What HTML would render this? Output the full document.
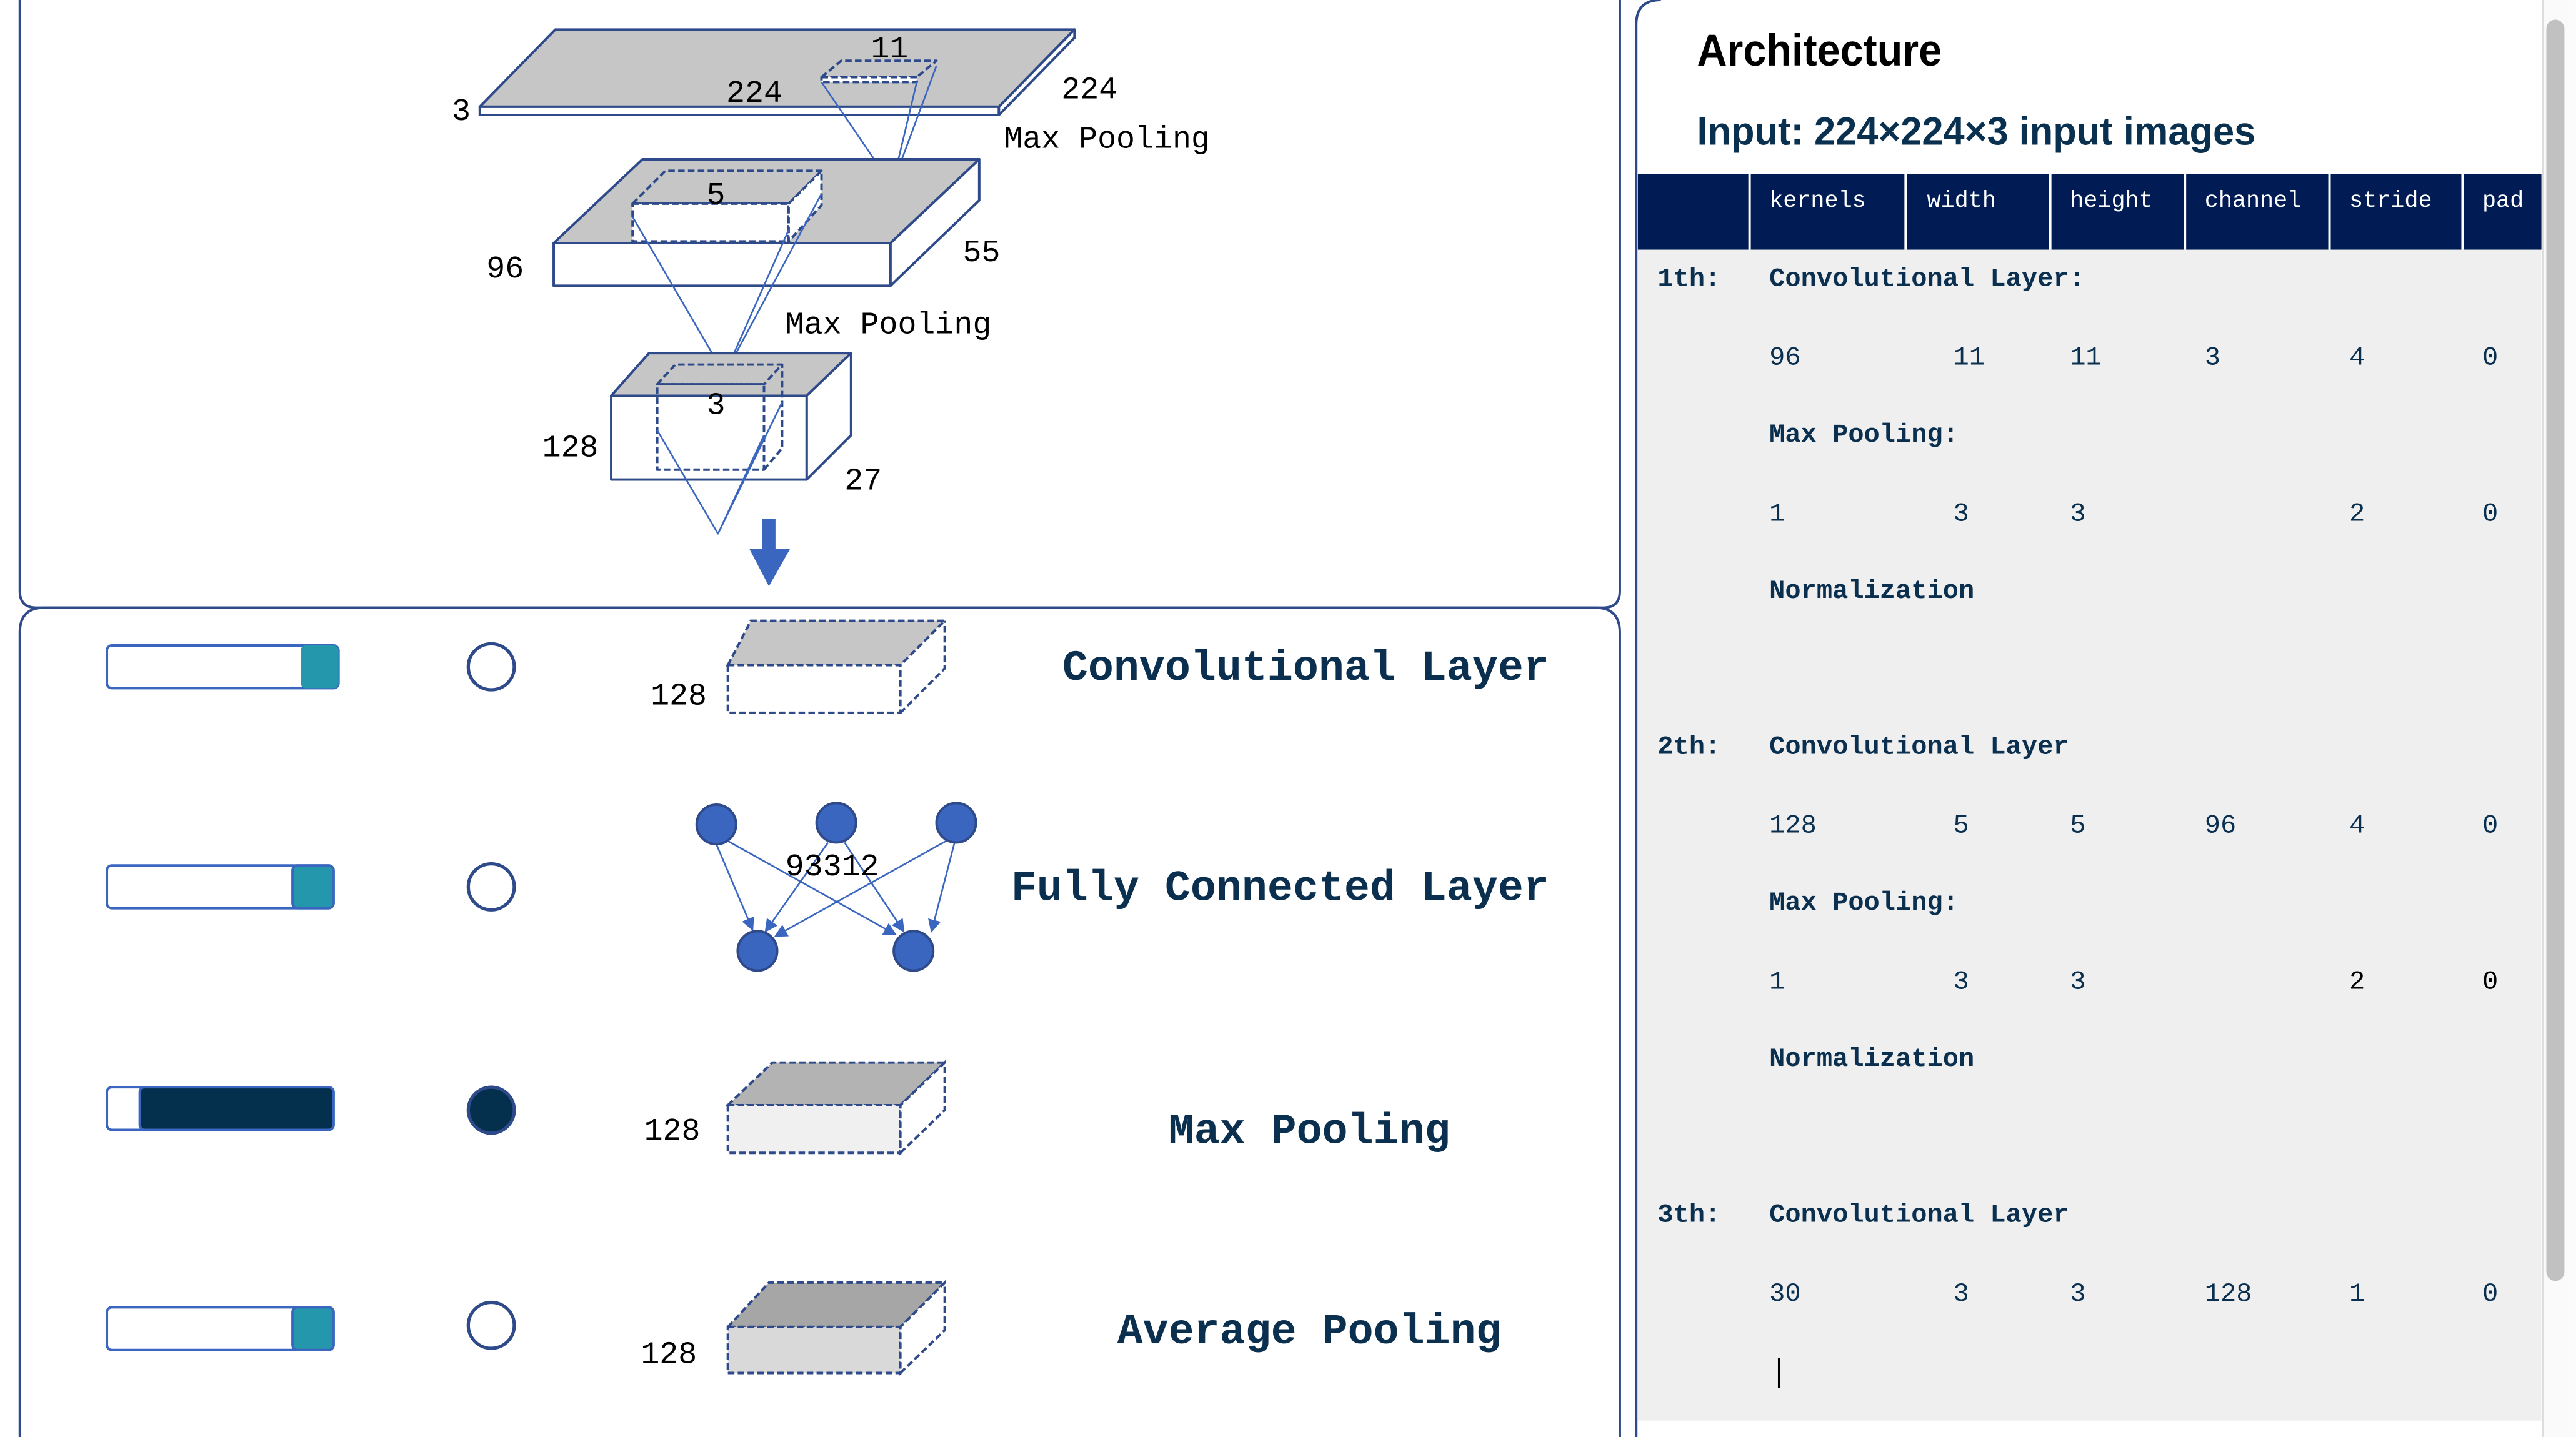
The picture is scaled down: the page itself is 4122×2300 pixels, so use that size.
<!DOCTYPE html>
<html><head><meta charset="utf-8"><style>
html,body{margin:0;padding:0;background:#fff;width:4122px;height:2300px;overflow:hidden}
svg{display:block}
.m{font-family:"Liberation Mono","DejaVu Sans Mono",monospace}
.n{font-family:"Liberation Sans Narrow","Liberation Sans",sans-serif}
</style></head><body>
<svg width="4122" height="2300" viewBox="0 0 1568 875" xmlns="http://www.w3.org/2000/svg">
<defs>
<marker id="ah" markerWidth="8" markerHeight="8" refX="7" refY="4" orient="auto" markerUnits="userSpaceOnUse"><path d="M0,0 L8,4 L0,8 Z" fill="#3a66c0"/></marker>
</defs>
<!-- panels -->
<path d="M12,-10 L12,360 Q12,370 22,370 L976,370 Q986,370 986,360 L986,-10" fill="none" stroke="#2e4a8a" stroke-width="1.5"/>
<path d="M12,885 L12,385 Q12,370 27,370 L971,370 Q986,370 986,385 L986,885" fill="none" stroke="#2e4a8a" stroke-width="1.5"/>
<path d="M996,885 L996,15 Q996,0 1011,0" fill="none" stroke="#2e4a8a" stroke-width="1.5"/>
<rect x="997" y="152" width="550" height="713" fill="#efefef"/>
<rect x="1548" y="0" width="20" height="875" fill="#fafafa"/>
<line x1="1548" y1="0" x2="1548" y2="875" stroke="#ddd"/>
<rect x="1550" y="12" width="11" height="768" rx="5.5" fill="#c1c1c1"/>

<!-- top diagram -->
<g stroke="#2e4a8a" stroke-width="1.5" stroke-linejoin="round">
<path d="M292,65 L338,18 L654,18 L608,65 Z" fill="#c6c6c6"/>
<path d="M292,65 L608,65 L608,70 L292,70 Z" fill="#fff"/>
<path d="M608,65 L654,18 L654,23 L608,70 Z" fill="#fff"/>
<g stroke-dasharray="4,2"><path d="M500,47 L512,37 L570,37 L558,47 Z" fill="#c6c6c6"/><rect x="500" y="47" width="58" height="3" fill="#fff"/></g>
<g stroke="#3a66c0" stroke-width="1" fill="none"><path d="M500,50 L543,113 L558,50 M543,113 L570,40"/></g>

<path d="M337,148 L391,97 L596,97 L542,148 Z" fill="#c6c6c6"/>
<rect x="337" y="148" width="205" height="26" fill="#fff"/>
<path d="M542,148 L596,97 L596,122 L542,174 Z" fill="#fff"/>
<g stroke-dasharray="4,2"><path d="M385,124 L405,104 L500,104 L480,124 Z" fill="#c6c6c6"/><rect x="385" y="124" width="95" height="23" fill="#fff"/><path d="M480,124 L500,104 L500,125 L480,147 Z" fill="#fff"/></g>
<g stroke="#3a66c0" stroke-width="1" fill="none"><path d="M385,132 L441,228 L480,140 M441,228 L500,118"/></g>

<path d="M372,241 L395,215 L518,215 L491,241 Z" fill="#c6c6c6"/>
<rect x="372" y="241" width="119" height="51" fill="#fff"/>
<path d="M491,241 L518,215 L518,265 L491,292 Z" fill="#fff"/>
<g stroke-dasharray="4,2" fill="none"><path d="M400,234 L411,222 L476,222 L465,234 Z"/><rect x="400" y="234" width="65" height="52"/><path d="M465,286 L476,273 L476,222"/></g>
<g stroke="#3a66c0" stroke-width="1" fill="none"><path d="M400,262 L437,325 L465,265 M437,325 L476,245"/></g>
</g>
<rect x="464" y="316" width="8" height="20" fill="#3a66c0"/>
<path d="M456,334 L481,334 L468,357 Z" fill="#3a66c0"/>
<g class="m" font-size="19" fill="#000">
<text x="275" y="73">3</text><text x="442" y="62">224</text><text x="646" y="60">224</text><text x="530" y="35">11</text>
<text x="611" y="90">Max Pooling</text>
<text x="296" y="169">96</text><text x="586" y="159">55</text><text x="430" y="124">5</text>
<text x="478" y="203">Max Pooling</text>
<text x="430" y="252">3</text><text x="330" y="278">128</text><text x="514" y="298">27</text>
</g>

<!-- bottom rows -->
<g stroke="#3a66c0" stroke-width="1.5">
<rect x="65" y="393" width="141" height="26" rx="3" fill="#fff"/><rect x="183" y="393" width="23" height="26" rx="3" fill="#2497ac" stroke="none"/>
<rect x="65" y="527" width="138" height="26" rx="3" fill="#fff"/><rect x="178" y="527" width="25" height="26" rx="3" fill="#2497ac"/>
<rect x="65" y="662" width="138" height="26" rx="3" fill="#fff"/><rect x="85" y="662" width="118" height="26" rx="3" fill="#05304d"/>
<rect x="65" y="796" width="138" height="26" rx="3" fill="#fff"/><rect x="178" y="796" width="25" height="26" rx="3" fill="#2497ac"/>
</g>
<g stroke="#2e4a8a" stroke-width="2">
<circle cx="299" cy="406" r="14" fill="#fff"/>
<circle cx="299" cy="540" r="14" fill="#fff"/>
<circle cx="299" cy="676" r="14" fill="#05304d"/>
<circle cx="299" cy="807" r="14" fill="#fff"/>
</g>
<g stroke="#2e4a8a" stroke-width="1.5" stroke-dasharray="4,2">
<path d="M443,405 L457,378 L575,378 L548,405 Z" fill="#c6c6c6"/><rect x="443" y="405" width="105" height="29" fill="#fff"/><path d="M548,434 L575,407 L575,378" fill="none"/>
<path d="M443,673 L470,647 L575,647 L548,673 Z" fill="#b3b3b3"/><rect x="443" y="673" width="105" height="29" fill="#f0f0f0"/><path d="M548,702 L575,676 L575,647 L548,673 Z" fill="#fff"/>
<path d="M443,808 L468,781 L575,781 L548,808 Z" fill="#a6a6a6"/><rect x="443" y="808" width="105" height="28" fill="#d9d9d9"/><path d="M548,836 L575,810 L575,781 L548,808 Z" fill="#fff"/>
</g>
<g stroke="#3a66c0" stroke-width="1" marker-end="url(#ah)">
<line x1="436" y1="514" x2="458" y2="566"/><line x1="441" y1="511" x2="545" y2="569"/>
<line x1="504" y1="513" x2="466" y2="567"/><line x1="514" y1="513" x2="550" y2="567"/>
<line x1="576" y1="512" x2="472" y2="570"/><line x1="581" y1="513" x2="567" y2="567"/>
</g>
<g fill="#3a66c0" stroke="#2e4a8a" stroke-width="1.5">
<circle cx="436" cy="502" r="12"/><circle cx="509" cy="501" r="12"/><circle cx="582" cy="501" r="12"/>
<circle cx="461" cy="579" r="12"/><circle cx="556" cy="579" r="12"/>
</g>
<g class="m" font-size="19" fill="#000">
<text x="396" y="429">128</text><text x="478" y="533">93312</text><text x="392" y="694">128</text><text x="390" y="830">128</text>
</g>
<g class="m" font-size="26" font-weight="bold" fill="#0a2f4f">
<text x="943" y="414" text-anchor="end">Convolutional Layer</text>
<text x="943" y="548" text-anchor="end">Fully Connected Layer</text>
<text x="797" y="696" text-anchor="middle">Max Pooling</text>
<text x="797" y="818" text-anchor="middle">Average Pooling</text>
</g>

<!-- right panel -->
<text class="n" x="1033" y="40" font-size="27" font-weight="bold" fill="#000" textLength="149" lengthAdjust="spacingAndGlyphs">Architecture</text>
<text class="n" x="1033" y="88" font-size="24" font-weight="bold" fill="#0a3050" textLength="340" lengthAdjust="spacingAndGlyphs">Input: 224×224×3 input images</text>
<rect x="997" y="106" width="550" height="46" fill="#011c54"/>
<g stroke="#fff" stroke-width="1.5"><line x1="1065" y1="106" x2="1065" y2="152"/><line x1="1160" y1="106" x2="1160" y2="152"/><line x1="1248" y1="106" x2="1248" y2="152"/><line x1="1330" y1="106" x2="1330" y2="152"/><line x1="1418" y1="106" x2="1418" y2="152"/><line x1="1499" y1="106" x2="1499" y2="152"/></g>
<g class="m" font-size="14" fill="#fff">
<text x="1077" y="126">kernels</text><text x="1173" y="126">width</text><text x="1260" y="126">height</text><text x="1342" y="126">channel</text><text x="1430" y="126">stride</text><text x="1511" y="126">pad</text>
</g>
<g class="m" font-size="16" fill="#0a2f4f">
<g font-weight="bold">
<text x="1009" y="174">1th:</text><text x="1077" y="174">Convolutional Layer:</text>
<text x="1077" y="269">Max Pooling:</text><text x="1077" y="364">Normalization</text>
<text x="1009" y="459">2th:</text><text x="1077" y="459">Convolutional Layer</text>
<text x="1077" y="554">Max Pooling:</text><text x="1077" y="649">Normalization</text>
<text x="1009" y="744">3th:</text><text x="1077" y="744">Convolutional Layer</text>
</g>
<text x="1077" y="222">96</text><text x="1189" y="222">11</text><text x="1260" y="222">11</text><text x="1342" y="222">3</text><text x="1430" y="222">4</text><text x="1511" y="222">0</text>
<text x="1077" y="317">1</text><text x="1189" y="317">3</text><text x="1260" y="317">3</text><text x="1430" y="317">2</text><text x="1511" y="317">0</text>
<text x="1077" y="507">128</text><text x="1189" y="507">5</text><text x="1260" y="507">5</text><text x="1342" y="507">96</text><text x="1430" y="507">4</text><text x="1511" y="507">0</text>
<text x="1077" y="602">1</text><text x="1189" y="602">3</text><text x="1260" y="602">3</text><text x="1430" y="602" fill="#000">2</text><text x="1511" y="602" fill="#000">0</text>
<text x="1077" y="792">30</text><text x="1189" y="792">3</text><text x="1260" y="792">3</text><text x="1342" y="792">128</text><text x="1430" y="792">1</text><text x="1511" y="792">0</text>
</g>
<line x1="1083" y1="827" x2="1083" y2="845" stroke="#000" stroke-width="1.5"/>
</svg>
</body></html>
